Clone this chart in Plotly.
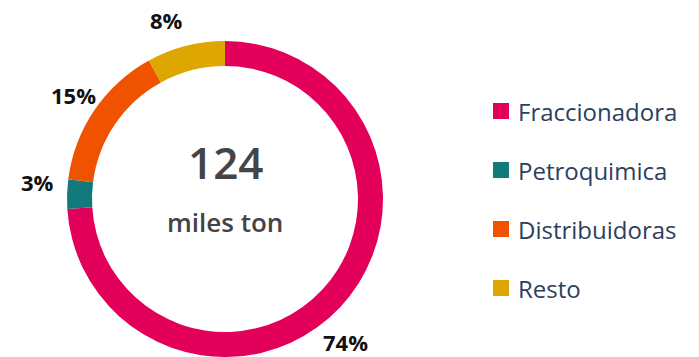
import plotly.graph_objects as go

# Data
categories = ["Fraccionadora", "Petroquimica", "Distribuidoras", "Resto"]
shares = [74, 3, 15, 8]
total_value = "124"
total_unit = "miles ton"

# Styling
colors = ["#E3005B", "#127A7A", "#EF5300", "#DDA600"]
W, H = 699, 357
cx, cy, r_out, r_in = 225, 199, 158, 133

# Pixel anchors for the outside percentage labels (same order as categories)
label_px = [(345, 342), (37, 182), (73, 95), (166, 20)]
# Legend layout
legend_x, legend_y0, legend_step, sq = 493, 111, 59, 16


def px(x, y):
    return x / W, 1 - y / H


fig = go.Figure(
    go.Pie(
        labels=categories,
        values=shares,
        marker=dict(colors=colors, line=dict(width=0)),
        hole=r_in / r_out,
        sort=False,
        direction="clockwise",
        rotation=0,
        textinfo="none",
        hoverinfo="label+percent",
        showlegend=False,
        domain=dict(x=[(cx - r_out) / W, (cx + r_out) / W],
                    y=[1 - (cy + r_out) / H, 1 - (cy - r_out) / H]),
    )
)

annotations = []
for val, (lx, ly) in zip(shares, label_px):
    x, y = px(lx, ly)
    annotations.append(dict(x=x, y=y, xref="paper", yref="paper", text=f"<b>{val}%</b>",
                            showarrow=False, xanchor="center", yanchor="middle",
                            font=dict(family="Open Sans", size=22, color="#111111")))

x, y = px(cx, 162)
annotations.append(dict(x=x, y=y, xref="paper", yref="paper", text=total_value, showarrow=False,
                        xanchor="center", yanchor="middle",
                        font=dict(family="Open Sans", size=44, color="#444444", weight=600)))
x, y = px(cx, 222)
annotations.append(dict(x=x, y=y, xref="paper", yref="paper", text=total_unit, showarrow=False,
                        xanchor="center", yanchor="middle",
                        font=dict(family="Open Sans", size=26, color="#444444", weight=600)))

shapes = []
for i, (name, col) in enumerate(zip(categories, colors)):
    yc = legend_y0 + i * legend_step
    x0, y0 = px(legend_x, yc - sq / 2)
    x1, y1 = px(legend_x + sq, yc + sq / 2)
    shapes.append(dict(type="rect", xref="paper", yref="paper", x0=x0, x1=x1, y0=y1, y1=y0,
                       fillcolor=col, line=dict(width=0)))
    tx, ty = px(legend_x + sq + 7, yc)
    annotations.append(dict(x=tx, y=ty, xref="paper", yref="paper", text=name, showarrow=False,
                            xanchor="left", yanchor="middle",
                            font=dict(family="Open Sans", size=24, color="#2A3F5F")))

fig.update_layout(
    width=W, height=H,
    margin=dict(l=0, r=0, t=0, b=0),
    paper_bgcolor="white", plot_bgcolor="white",
    annotations=annotations, shapes=shapes,
)

fig.write_html("out.html")
